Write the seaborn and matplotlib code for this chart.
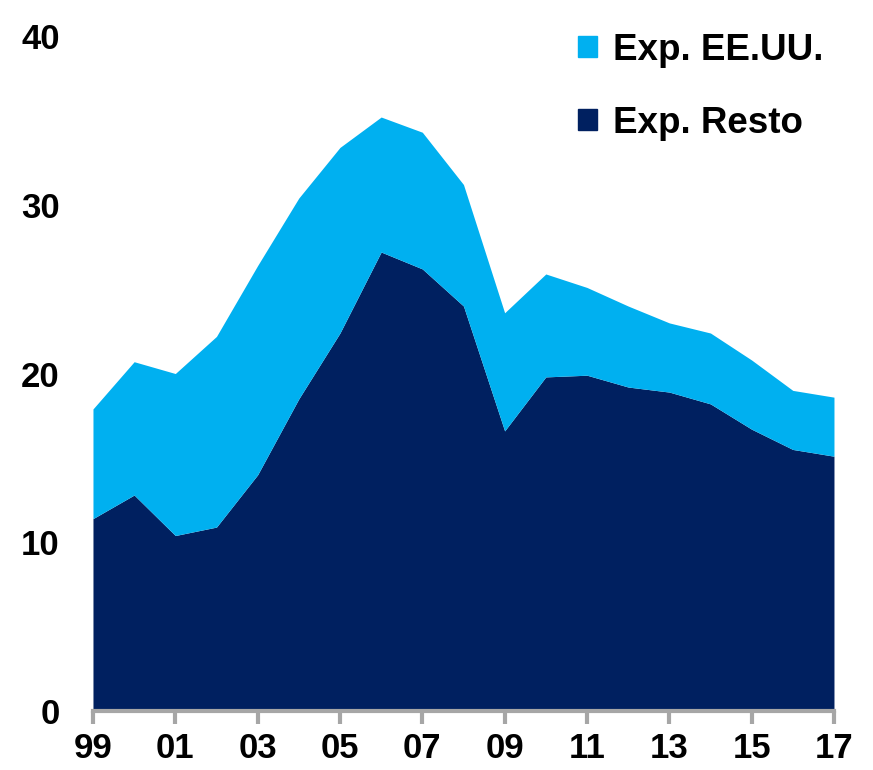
import matplotlib
matplotlib.use('Agg')
import matplotlib.pyplot as plt
import seaborn as sns
from matplotlib.patches import Patch

# data (exports, two stacked series)
years = list(range(1999, 2018))
resto = [11.4, 12.8, 10.4, 10.9, 14.0, 18.5, 22.4, 27.2, 26.2, 24.0,
         16.6, 19.8, 19.9, 19.2, 18.9, 18.2, 16.7, 15.5, 15.1]
total = [17.9, 20.7, 20.0, 22.2, 26.4, 30.4, 33.4, 35.2, 34.3, 31.2,
         23.6, 25.9, 25.1, 24.0, 23.0, 22.4, 20.8, 19.0, 18.6]
eeuu = [round(t - r, 1) for t, r in zip(total, resto)]
tick_years = years[::2]
tick_labels = [str(y)[-2:] for y in tick_years]

col_resto = '#002060'
col_eeuu = '#00B0F0'

sns.set_theme(style='white')
plt.rcParams['font.family'] = ['Liberation Sans', 'DejaVu Sans']
plt.rcParams['font.weight'] = 'bold'
plt.rcParams['text.color'] = 'black'
plt.rcParams['xtick.color'] = 'black'
plt.rcParams['ytick.color'] = 'black'

fig = plt.figure(figsize=(8.73, 7.7), dpi=100)
ax = fig.add_axes([0.1065, 0.0766, 0.8488, 0.8766])

ax.stackplot(years, resto, eeuu, colors=[col_resto, col_eeuu], linewidth=0)

ax.set_xlim(1999, 2017)
ax.set_ylim(0, 40)
ax.set_xticks(tick_years)
ax.set_xticklabels(tick_labels)
ax.set_yticks([0, 10, 20, 30, 40])

for s in ['top', 'right', 'left']:
    ax.spines[s].set_visible(False)
ax.spines['bottom'].set_color('#A6A6A6')
ax.spines['bottom'].set_linewidth(3)
ax.tick_params(axis='x', bottom=True, length=9, width=3, color='#A6A6A6',
               labelcolor='black', labelsize=25, pad=6)
ax.tick_params(axis='y', left=False, labelcolor='black', labelsize=25, pad=18)
for lab in ax.get_xticklabels() + ax.get_yticklabels():
    lab.set_fontweight('bold')

handles = [Patch(color=col_eeuu, label='Exp. EE.UU.'),
           Patch(color=col_resto, label='Exp. Resto')]
leg = ax.legend(handles=handles, loc='upper left', bbox_to_anchor=(0.655, 1.005),
                frameon=False, handlelength=0.5, handleheight=0.5,
                handletextpad=0.45, labelspacing=1.03, borderpad=0,
                borderaxespad=0, prop={'size': 26.5, 'weight': 'bold'})
for t in leg.get_texts():
    t.set_color('black')

fig.savefig('out.png', dpi=100)
